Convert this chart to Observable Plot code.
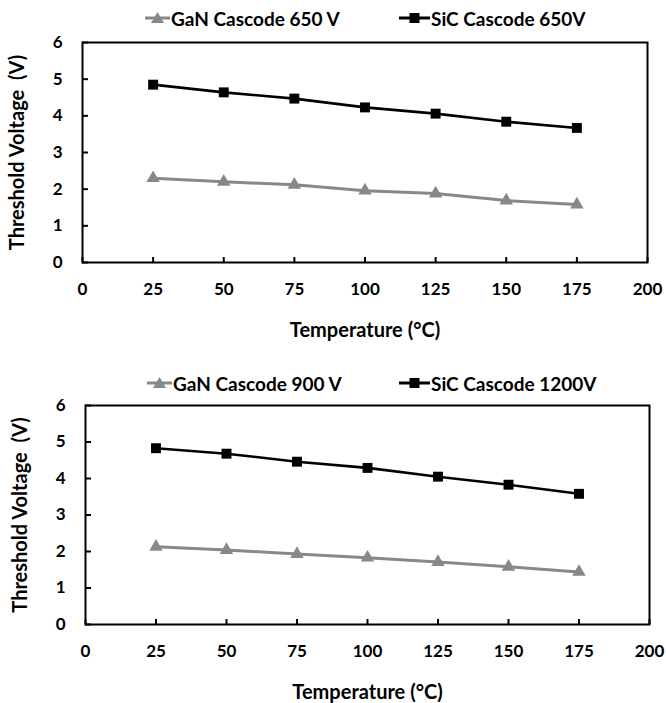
<!DOCTYPE html>
<html>
<head>
<meta charset="utf-8">
<script src="https://cdn.jsdelivr.net/npm/d3@7"></script>
<script src="https://cdn.jsdelivr.net/npm/@observablehq/plot@0.6"></script>
<style>
  html, body { margin: 0; padding: 0; background: #fff; }
  #wrap { position: relative; width: 666px; height: 703px; overflow: hidden; font-family: Lato, sans-serif; }
  .chart { position: absolute; left: 0; }
  .leg { position: absolute; display: flex; align-items: center; height: 24px; font: bold 19px Lato, sans-serif; color: #000; white-space: nowrap; }
  .leg svg { display: block; margin-right: 1px; }
</style>
</head>
<body>
<div id="wrap"></div>
<script>
// ---- data ----
const temps = [25, 50, 75, 100, 125, 150, 175];
const gan650 = [2.30, 2.20, 2.12, 1.96, 1.88, 1.69, 1.58];
const sic650 = [4.85, 4.64, 4.47, 4.23, 4.06, 3.84, 3.67];
const gan900 = [2.13, 2.04, 1.93, 1.83, 1.71, 1.58, 1.44];
const sic1200 = [4.83, 4.68, 4.46, 4.29, 4.05, 3.83, 3.58];
const xTicks = [0, 25, 50, 75, 100, 125, 150, 175, 200];
const yTicks = [0, 1, 2, 3, 4, 5, 6];
const xLabel = "Temperature (°C)";
const yLabel = "Threshold Voltage  (V)";
const charts = [
  { ganName: "GaN Cascode 650 V", sicName: "SiC Cascode 650V", gan: gan650, sic: sic650 },
  { ganName: "GaN Cascode 900 V", sicName: "SiC Cascode 1200V", gan: gan900, sic: sic1200 }
];

const GRAY = "#888888";
const wrap = document.getElementById("wrap");

const layout = [
  { svgTop: 30, height: 312, mt: 12, mb: 80, ml: 82, mr: 19, legTop: 6, leg1: 145, leg2: 399 },
  { svgTop: 395, height: 308, mt: 10, mb: 79, ml: 85, mr: 17, legTop: 371, leg1: 147, leg2: 399 }
];

function swatch(kind) {
  const ns = "http://www.w3.org/2000/svg";
  const s = document.createElementNS(ns, "svg");
  const w = kind === "tri" ? 25 : 31;
  s.setAttribute("width", w);
  s.setAttribute("height", 20);
  const l = document.createElementNS(ns, "line");
  l.setAttribute("x1", 0); l.setAttribute("x2", w);
  l.setAttribute("y1", 10); l.setAttribute("y2", 10);
  l.setAttribute("stroke", kind === "tri" ? GRAY : "#000");
  l.setAttribute("stroke-width", 3);
  s.appendChild(l);
  const c = w / 2;
  if (kind === "tri") {
    const p = document.createElementNS(ns, "path");
    p.setAttribute("d", `M${c},4 L${c + 6.5},15 L${c - 6.5},15 Z`);
    p.setAttribute("fill", GRAY);
    s.appendChild(p);
  } else {
    const r = document.createElementNS(ns, "rect");
    r.setAttribute("x", c - 5); r.setAttribute("y", 5);
    r.setAttribute("width", 10); r.setAttribute("height", 10);
    r.setAttribute("fill", "#000");
    s.appendChild(r);
  }
  return s;
}

function legendItem(kind, name, left, top) {
  const d = document.createElement("div");
  d.className = "leg";
  d.style.left = left + "px";
  d.style.top = top + "px";
  d.appendChild(swatch(kind));
  const t = document.createElement("span");
  t.textContent = name;
  d.appendChild(t);
  wrap.appendChild(d);
}

charts.forEach((c, i) => {
  const L = layout[i];
  legendItem("tri", c.ganName, L.leg1, L.legTop);
  legendItem("sq", c.sicName, L.leg2, L.legTop);

  const ganData = temps.map((t, j) => ({ t, v: c.gan[j] }));
  const sicData = temps.map((t, j) => ({ t, v: c.sic[j] }));

  const plot = Plot.plot({
    width: 666,
    height: L.height,
    marginTop: L.mt,
    marginBottom: L.mb,
    marginLeft: L.ml,
    marginRight: L.mr,
    style: { fontFamily: "Lato, sans-serif", background: "#fff", overflow: "visible" },
    x: { domain: [0, 200] },
    y: { domain: [0, 6] },
    marks: [
      Plot.lineY(ganData, { x: "t", y: "v", stroke: GRAY, strokeWidth: 3 }),
      Plot.dot(ganData, { x: "t", y: "v", symbol: "triangle", r: 5, fill: GRAY, stroke: "none" }),
      Plot.lineY(sicData, { x: "t", y: "v", stroke: "#000", strokeWidth: 2.6 }),
      Plot.dot(sicData, { x: "t", y: "v", symbol: "square", r: 5.6, fill: "#000", stroke: "none" }),
      Plot.axisX({
        ticks: xTicks, tickFormat: d => String(d),
        tickSize: -5, tickPadding: 25, strokeWidth: 2,
        fontSize: 17, fontWeight: "bold", fill: "#000",
        label: xLabel, labelAnchor: "center", labelOffset: 74, labelArrow: "none"
      }),
      Plot.axisY({
        ticks: yTicks, tickFormat: d => String(d),
        tickSize: -6, tickPadding: 26, strokeWidth: 2,
        fontSize: 17, fontWeight: "bold", fill: "#000",
        label: yLabel, labelAnchor: "center", labelOffset: 73, labelArrow: "none"
      }),
      Plot.frame({ stroke: "#000", strokeWidth: 2 })
    ]
  });
  plot.classList.add("chart");
  plot.style.position = "absolute";
  plot.style.top = L.svgTop + "px";
  plot.style.left = "0px";
  plot.querySelectorAll("text").forEach(t => { t.setAttribute("xml:space", "preserve"); t.style.whiteSpace = "pre"; });
  plot.querySelectorAll('g[aria-label="x-axis label"], g[aria-label="y-axis label"]').forEach(g => {
    g.setAttribute("font-size", 20);
    g.querySelectorAll("text").forEach(t => t.setAttribute("font-size", 20));
  });
  wrap.appendChild(plot);
});
</script>
</body>
</html>
